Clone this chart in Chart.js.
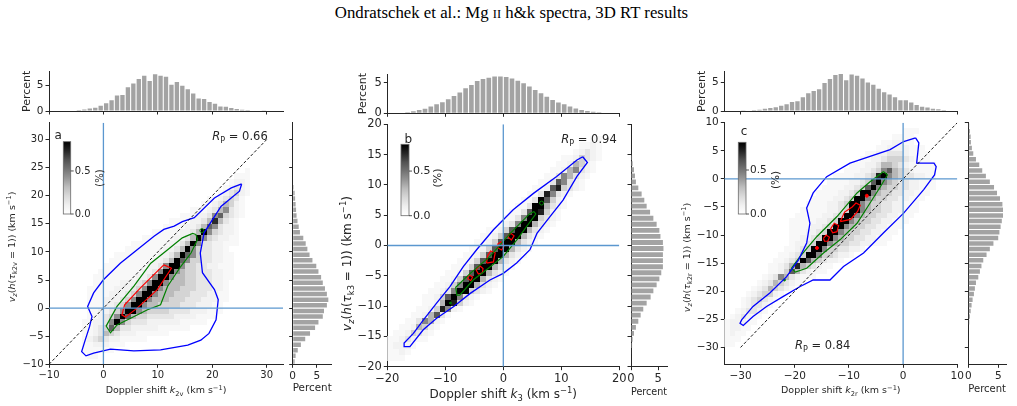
<!DOCTYPE html>
<html>
<head>
<meta charset="utf-8">
<title>Mg II h&k spectra, 3D RT results</title>
<script src="https://cdn.jsdelivr.net/npm/chart.js@4.4.1/dist/chart.umd.min.js"></script>
<style>
  html, body { margin: 0; padding: 0; background: #fff; }
  #fig { position: relative; width: 1017px; height: 406px; overflow: hidden; background: #fff; }
  #fig canvas { position: absolute; left: 0; top: 0; }
  #title { position: absolute; left: 3px; top: 3px; width: 1017px; text-align: center;
           font: 16.8px "Liberation Serif", "DejaVu Serif", serif; color: #000; }
</style>
</head>
<body>
<div id="fig">
  <div id="title">Ondratschek et al.: Mg <span style="font-size:12.5px">II</span> h&amp;k spectra, 3D RT results</div>
</div>
<script>
// ---------------------------------------------------------------- data
// 2D histograms: [y bin, first x bin, one digit per 1 km/s cell] (0 empty .. 9 darkest)
const levelPct = [0, 0.05, 0.09, 0.15, 0.23, 0.32, 0.45, 0.58, 0.72, 0.9];

const heatA = [
  [24, 26, '1'], [23, 24, '111'], [22, 23, '1221'], [21, 22, '12321'], [20, 21, '123421'],
  [19, 19, '1123431'], [18, 18, '11235421'], [17, 16, '1112356321'], [16, 14, '111223674321'],
  [15, 12, '1111223585321'], [14, 11, '11112235763221'], [13, 9, '1111122359643221'],
  [12, 7, '111111223596432211'], [11, 5, '11111112235963322111'], [10, 4, '1111111223596433221'],
  [9, 2, '1111111122359764332211'], [8, 1, '11111111223597644332211'],
  [7, 0, '111111112236996443322111'], [6, -1, '1111111122369965443332211'],
  [5, -2, '11111111223699655443332211'], [4, -2, '1111122234699655544333221'],
  [3, -3, '11111222346996555444333221'], [2, -3, '11112223469965554443332211'],
  [1, -3, '11122234699655544433322211'], [0, -3, '1112234699655444433322211'],
  [-1, -3, '1122346996544443333222111'], [-2, -3, '112346975443333322221111'],
  [-3, -4, '11223696433322222211111'], [-4, -4, '11234753322222111111'],
  [-5, -4, '1123543222111111'], [-6, -4, '123432211111'], [-7, -4, '11222111'],
  [-8, -4, '111111'], [-9, -3, '11']
];

const heatB = [
  [17, 15, '11'], [16, 13, '1121'], [15, 12, '12321'], [14, 10, '1124321'], [13, 9, '1125421'],
  [12, 8, '11256321'], [11, 7, '11365321'], [10, 6, '11376321'], [9, 5, '112784321'],
  [8, 4, '11386321'], [7, 3, '11397421'], [6, 2, '113995321'], [5, 1, '113798421'],
  [4, 0, '1136994321'], [3, -1, '1236995321'], [2, -3, '11247995321'], [1, -4, '11247995321'],
  [0, -5, '11247995321'], [-1, -6, '11247995321'], [-2, -7, '11247995321'], [-3, -8, '11247995321'],
  [-4, -9, '11247995321'], [-5, -10, '11247995321'], [-6, -11, '11247995321'],
  [-7, -12, '11246995321'], [-8, -13, '11236994321'], [-9, -14, '1124796321'],
  [-10, -14, '112598421'], [-11, -15, '11248621'], [-12, -16, '1125731'], [-13, -17, '1136521'],
  [-14, -18, '1125421'], [-15, -19, '1124321'], [-16, -20, '1123211'], [-17, -20, '12221'],
  [-18, -20, '1121'], [-19, -20, '111']
];

const heatC = [
  [8, 0, '111'], [7, -2, '1111'], [6, -4, '112211'], [5, -5, '112222111'],
  [4, -7, '112233321111'], [3, -8, '1122344432111'], [2, -10, '1112235543211111'],
  [1, -11, '11122346754321111'], [0, -13, '1111223489654332211'],
  [-1, -14, '11112234796543322111'], [-2, -15, '111122347965443322111'],
  [-3, -16, '111122349965443322111'], [-4, -17, '111122349965443322111'],
  [-5, -18, '111122349965443322111'], [-6, -19, '1111122349965443322111'],
  [-7, -20, '1111122349965443322111'], [-8, -21, '1111122349965443322111'],
  [-9, -21, '111122349965443322111'], [-10, -21, '11122349965443322111'],
  [-11, -21, '1122349965443322111'], [-12, -21, '122349965443322111'],
  [-13, -22, '112349964433221'], [-14, -23, '11234996443221'], [-15, -24, '1123497543221'],
  [-16, -25, '112358543211'], [-17, -25, '11247532111'], [-18, -26, '1236532111'],
  [-19, -27, '123543211'], [-20, -28, '12354321'], [-21, -29, '1234421'], [-22, -30, '1234321'],
  [-23, -30, '123321'], [-24, -31, '123321'], [-25, -32, '123211'], [-26, -33, '122211'],
  [-27, -33, '12211'], [-28, -33, '1211'], [-29, -33, '111'], [-30, -33, '11']
];

// marginal histograms, percent per 1 km/s bin (first bin centre given)
const topA = [0.1, 0.2, 0.3, 0.5, 0.65, 1.0, 1.5, 2.1, 3.0, 3.1, 4.6, 5.3, 6.2, 6.8, 5.8, 7.1, 6.8, 6.6,
  5.1, 5.6, 4.9, 4.2, 3.4, 2.4, 2.3, 1.75, 1.4, 0.85, 0.8, 0.6, 0.4, 0.25, 0.2, 0.1, 0.1, 0.05];
const topAFirst = -5.5;
const rightA = [0.4, 0.6, 1.05, 1.7, 2.6, 3.6, 4.65, 5.35, 6.25, 6.5, 7.1, 7.4, 7.1, 6.7, 6.25, 5.9, 5.35,
  4.9, 4.1, 3.5, 3.05, 2.7, 2.2, 1.5, 1.25, 1.0, 0.8, 0.7, 0.6, 0.5, 0.4, 0.2, 0.1];
const rightAFirst = -9.5;

const topB = [0.08, 0.16, 0.33, 0.54, 0.76, 1.09, 1.47, 1.8, 2.3, 2.83, 3.37, 4.08, 4.6, 5.27, 5.6, 5.8,
  6.0, 6.0, 5.9, 5.65, 5.3, 4.9, 4.35, 3.8, 3.26, 2.7, 2.17, 1.74, 1.47, 1.09, 0.8, 0.54, 0.38, 0.27, 0.16, 0.1];
const topBFirst = -17.5;
const rightB = [0.1, 0.2, 0.3, 0.55, 0.9, 1.34, 1.77, 2.25, 2.87, 3.6, 4.1, 4.7, 5.2, 5.55, 5.85, 5.85, 5.85,
  5.95, 5.85, 5.4, 5.2, 4.7, 4.1, 3.5, 2.87, 2.44, 1.95, 1.34, 0.9, 0.73, 0.55, 0.3, 0.2, 0.1];
const rightBFirst = -17.5;

const topC = [0.06, 0.1, 0.18, 0.24, 0.4, 0.53, 0.65, 0.9, 1.2, 1.6, 1.7, 2.4, 3.1, 3.5, 3.8, 4.9, 5.6, 6.3,
  6.5, 5.4, 6.4, 6.2, 5.7, 5.0, 4.6, 3.9, 3.3, 2.9, 2.4, 1.9, 1.9, 1.5, 1.05, 0.76, 0.6, 0.4, 0.3, 0.18, 0.1];
const topCFirst = -29.5;
const rightC = [0.17, 0.28, 0.4, 0.55, 0.72, 0.94, 1.1, 1.28, 1.67, 1.94, 2.2, 2.5, 3.05, 3.6, 4.2, 5.0, 5.2,
  5.4, 5.6, 5.8, 5.8, 5.7, 5.3, 4.8, 4.3, 3.6, 2.94, 2.33, 1.83, 1.28, 0.83, 0.6, 0.44, 0.39, 0.28, 0.15];
const rightCFirst = -25.5;

// contour lines (km/s)
const blueA = [[25.4, 22.1], [25.0, 20.8], [21.6, 18.1], [18.5, 13.4], [17.8, 9.8], [18.2, 6.3], [20.4, 3.3],
  [21.1, 1.5], [20.7, -2.1], [19.4, -4.5], [17.9, -5.7], [15.5, -6.6], [10.5, -7.45], [5.6, -7.6], [1.3, -7.3],
  [-1.8, -8.0], [-3.2, -8.5], [-4.0, -7.75], [-3.35, -5.7], [-2.55, -3.3], [-2.1, -1.5], [-2.9, 0.3],
  [-1.8, 2.7], [0.0, 5.05], [3.1, 8.0], [6.2, 10.4], [9.3, 12.8], [11.1, 14.0], [13.0, 14.6], [14.5, 15.4],
  [16.7, 16.1], [20.4, 19.6], [23.5, 21.4], [25.4, 22.1]];
const greenA = [[17.0, 13.1], [17.3, 12.2], [16.1, 9.8], [14.2, 7.4], [11.8, 3.9], [10.5, 0.6], [8.1, -0.3],
  [5.0, -1.8], [2.5, -3.0], [1.3, -4.4], [0.5, -3.2], [2.5, 0.3], [5.6, 3.9], [8.7, 8.0], [11.8, 10.4],
  [14.5, 12.5], [16.4, 13.3], [17.0, 13.1]];
const redA = [[11.1, 7.7], [12.5, 7.1], [9.9, 3.3], [6.2, 0.0], [4.05, -1.6], [3.4, -1.2], [3.9, 0.6],
  [6.8, 3.6], [11.1, 7.7]];

const blueB = [[13.7, 14.65], [14.5, 13.7], [12.7, 11.4], [10.3, 7.5], [8.05, 4.75], [5.8, 2.0], [4.6, -0.7],
  [2.3, -2.9], [0.0, -4.6], [-2.3, -5.7], [-5.7, -7.9], [-8.6, -10.1], [-11.5, -12.0], [-13.8, -13.9],
  [-16.1, -16.7], [-16.95, -16.7], [-17.1, -16.1], [-15.5, -14.5], [-13.8, -12.3], [-11.5, -9.5],
  [-9.2, -6.8], [-6.9, -3.5], [-4.6, -0.7], [-1.7, 2.6], [1.7, 5.9], [5.2, 8.6], [9.2, 11.4], [12.7, 14.1],
  [13.7, 14.65]];
const greenB = [[5.3, 5.6], [5.6, 5.2], [2.3, 0.9], [0.0, -1.8], [-2.9, -4.0], [-5.2, -5.7], [-7.5, -8.2],
  [-8.0, -8.2], [-8.2, -6.9], [-5.7, -4.6], [-2.3, -1.8], [1.2, 2.0], [4.6, 5.3], [5.3, 5.6]];
const redB = [
  [[0.7, 1.5], [1.3, 2.0], [1.85, 1.6], [1.4, 0.9], [0.7, 1.5]],
  [[-1.0, 0.2], [-0.4, 0.6], [0.1, -0.2], [-0.3, -0.75], [-0.9, -0.4], [-1.0, 0.2]],
  [[-2.9, -2.9], [-1.7, -2.7], [-1.4, -1.2], [-2.2, -0.9], [-2.7, -1.7], [-2.9, -2.9]],
  [[-4.7, -4.0], [-4.1, -3.3], [-3.5, -3.8], [-3.6, -4.5], [-4.3, -4.7], [-4.7, -4.0]],
  [[-6.2, -5.4], [-5.8, -4.9], [-5.3, -5.2], [-5.6, -5.8], [-6.2, -5.4]]
];

const blueC = [[2.3, 7.3], [2.9, 6.4], [2.5, 2.8], [5.7, 2.8], [6.1, 2.2], [5.8, 0.7], [3.8, -1.9], [0.1, -6.1],
  [-3.6, -9.6], [-7.3, -13.2], [-11.0, -15.6], [-13.5, -18.0], [-16.6, -18.0], [-19.0, -19.15],
  [-22.1, -20.9], [-25.2, -22.7], [-27.7, -24.5], [-29.5, -26.1], [-30.1, -25.7], [-29.8, -25.1],
  [-27.7, -22.7], [-24.6, -20.3], [-21.5, -17.4], [-19.3, -14.4], [-17.8, -11.4], [-17.2, -7.9],
  [-17.8, -5.2], [-16.6, -2.5], [-14.1, 0.4], [-9.8, 2.8], [-6.1, 4.0], [-2.4, 5.2], [0.1, 6.65], [2.3, 7.3]];
const greenC = [[-3.6, 1.3], [-2.9, 0.7], [-4.2, -1.4], [-6.1, -4.3], [-8.5, -7.9], [-11.6, -10.8],
  [-14.7, -13.2], [-17.8, -15.9], [-19.9, -16.6], [-20.6, -15.9], [-19.0, -13.8], [-15.9, -10.25],
  [-12.2, -6.7], [-8.5, -2.5], [-6.1, -0.5], [-3.6, 1.3]];
const redC = [
  [[-11.6, -7.6], [-10.8, -5.9], [-9.4, -5.0], [-8.7, -4.3], [-7.9, -4.7], [-8.4, -5.8], [-9.7, -7.2], [-11.6, -7.6]],
  [[-13.4, -8.9], [-12.7, -7.9], [-11.9, -8.3], [-12.2, -9.4], [-13.0, -9.6], [-13.4, -8.9]],
  [[-14.7, -10.6], [-14.2, -10.0], [-13.6, -10.4], [-13.9, -11.1], [-14.5, -11.1], [-14.7, -10.6]]
];

// tick labels
const ticksAx = [-10, 0, 10, 20, 30], ticksAy = [-10, -5, 0, 5, 10, 15, 20, 25, 30];
const ticksBx = [-20, -10, 0, 10, 20], ticksBy = [-20, -15, -10, -5, 0, 5, 10, 15, 20];
const ticksCx = [-30, -20, -10, 0, 10], ticksCy = [-30, -25, -20, -15, -10, -5, 0, 5, 10];
const pctTicks = [0, 5];
const cbTicks = [0, 0.5];

// ---------------------------------------------------------------- helpers
const W = 1017, H = 406;
const ink = '#262626';
const zeroBlue = '#5b97cf';
const barGrey = '#a3a3a3';
const fig = document.getElementById('fig');

const greyStops = [[0, 255], [0.125, 240], [0.25, 217], [0.375, 189], [0.5, 150], [0.625, 115], [0.75, 82], [0.875, 37], [1, 0]];
function grey(t) {
  t = Math.max(0, Math.min(1, t));
  for (let i = 1; i < greyStops.length; i++) {
    const [t0, c0] = greyStops[i - 1], [t1, c1] = greyStops[i];
    if (t <= t1) {
      const c = Math.round(c0 + (c1 - c0) * (t - t0) / (t1 - t0));
      return `rgb(${c},${c},${c})`;
    }
  }
  return 'rgb(0,0,0)';
}

const fmt = v => (v < 0 ? '\u2212' + Math.abs(v) : String(v));

function rich(ctx, parts, x, y, size, align, rot) {
  const fontOf = st => (st.includes('i') ? 'italic ' : '') + (/[bp]/.test(st) ? size * 0.7 : size) + 'px "DejaVu Sans"';
  ctx.save();
  ctx.translate(x, y);
  ctx.rotate(rot || 0);
  ctx.textAlign = 'left';
  ctx.textBaseline = 'alphabetic';
  ctx.fillStyle = ink;
  let w = 0;
  parts.forEach(([t, st]) => { ctx.font = fontOf(st); w += ctx.measureText(t).width; });
  let cx = align === 'center' ? -w / 2 : align === 'right' ? -w : 0;
  const base = size * 0.36;
  parts.forEach(([t, st]) => {
    ctx.font = fontOf(st);
    const dy = st.includes('b') ? size * 0.24 : st.includes('p') ? -size * 0.4 : 0;
    ctx.fillText(t, cx, base + dy);
    cx += ctx.measureText(t).width;
  });
  ctx.restore();
}

function pad(area, yw, xh) {
  const [L, R, T, B] = area;
  return { left: L - yw, right: W - R, top: T, bottom: H - B - xh };
}

function axis(pos, range, ticks, labels, fs, size, title, tfs) {
  const vertical = pos === 'left';
  return {
    type: 'linear', position: pos, min: range[0], max: range[1], offset: false,
    afterBuildTicks: s => { s.ticks = ticks.map(v => ({ value: v })); },
    afterFit: s => { if (vertical) s.width = size; else s.height = size; },
    ticks: { display: labels, autoSkip: false, maxRotation: 0, padding: 2, color: ink,
             font: { size: fs }, callback: v => fmt(v) },
    grid: { display: true, offset: false, drawOnChartArea: false, drawTicks: true, tickLength: 3.5, color: ink, lineWidth: 1 },
    border: { display: true, color: ink, width: 1 },
    title: title ? { display: true, text: title, padding: 0, color: ink, font: { size: tfs } } : { display: false }
  };
}

function make(cfg) {
  const cv = document.createElement('canvas');
  cv.width = W; cv.height = H;
  cv.style.width = W + 'px'; cv.style.height = H + 'px';
  fig.appendChild(cv);
  cfg.options = Object.assign({
    responsive: false, animation: false, devicePixelRatio: 1, events: [],
    plugins: { legend: { display: false }, tooltip: { enabled: false } }
  }, cfg.options);
  return new Chart(cv, cfg);
}

const pts = arr => arr.map(([x, y]) => ({ x, y }));
const seg = (arr, col, w, dash) => ({
  data: pts(arr), showLine: true, pointRadius: 0, borderColor: col, borderWidth: w,
  borderDash: dash || [], fill: false, tension: 0
});
const dot = ([x, y], col, r, filled) => ({
  data: [{ x, y }], showLine: false, pointRadius: r, pointBorderColor: col, pointBorderWidth: 1,
  pointBackgroundColor: filled ? col : 'rgba(0,0,0,0)'
});

function drawHeat(chart, rows, vmax) {
  const { ctx, chartArea: a } = chart;
  const sx = chart.scales.x, sy = chart.scales.y;
  ctx.save();
  ctx.beginPath();
  ctx.rect(a.left, a.top, a.right - a.left, a.bottom - a.top);
  ctx.clip();
  rows.forEach(([yb, x0, cells]) => {
    const top = Math.round(sy.getPixelForValue(yb + 1)), bot = Math.round(sy.getPixelForValue(yb));
    for (let i = 0; i < cells.length; i++) {
      const lv = +cells[i];
      if (!lv) continue;
      const l = Math.round(sx.getPixelForValue(x0 + i)), r = Math.round(sx.getPixelForValue(x0 + i + 1));
      ctx.fillStyle = grey(levelPct[lv] / vmax);
      ctx.fillRect(l, top, r - l, bot - top);
    }
  });
  ctx.restore();
}

function drawColorbar(ctx, a, p) {
  const [dx, dy, w, h] = p.cb;
  const x = a.left + dx, y = a.top + dy;
  const g = ctx.createLinearGradient(0, y + h, 0, y);
  greyStops.forEach(([t, c]) => g.addColorStop(t, `rgb(${c},${c},${c})`));
  ctx.save();
  ctx.fillStyle = g;
  ctx.fillRect(x, y, w, h);
  ctx.strokeStyle = '#6a6a6a';
  ctx.lineWidth = 0.8;
  ctx.strokeRect(x, y, w, h);
  ctx.strokeStyle = ink;
  ctx.fillStyle = ink;
  ctx.font = p.cbFs + 'px "DejaVu Sans"';
  ctx.textAlign = 'left';
  ctx.textBaseline = 'middle';
  cbTicks.forEach(v => {
    const ty = y + h - v / p.vmax * h;
    ctx.beginPath(); ctx.moveTo(x + w, ty); ctx.lineTo(x + w + 3, ty); ctx.stroke();
    ctx.fillText(v.toFixed(1), x + w + 4, ty);
  });
  ctx.translate(a.left + p.pct[0], a.top + p.pct[1]);
  ctx.rotate(-Math.PI / 2);
  ctx.textAlign = 'center';
  ctx.fillText('(%)', 0, 0);
  ctx.restore();
}

function decor(p) {
  return {
    id: 'decor' + p.letter,
    beforeDatasetsDraw(chart) { drawHeat(chart, p.heat, p.vmax); },
    afterDraw(chart) {
      const ctx = chart.ctx, a = chart.chartArea;
      drawColorbar(ctx, a, p);
      ctx.save();
      ctx.fillStyle = ink;
      ctx.font = p.letterFs + 'px "DejaVu Sans"';
      ctx.textAlign = 'center';
      ctx.textBaseline = 'middle';
      ctx.fillText(p.letter, a.left + p.letterPos[0], a.top + p.letterPos[1]);
      ctx.restore();
      const rp = [['R', 'i'], ['P', 'b'], [' = ' + p.rp, '']];
      if (p.rpAt === 'topright') rich(ctx, rp, a.right + p.rpPos[0], a.top + p.rpPos[1], 11.5, 'right');
      else rich(ctx, rp, a.left + p.rpPos[0], a.bottom + p.rpPos[1], 11.5, 'left');
      const xt = [['Doppler shift ', ''], ['k', 'i'], [p.sub, 'b'], [' (km s', ''], ['\u22121', 'p'], [')', '']];
      rich(ctx, xt, (a.left + a.right) / 2, a.bottom + p.xTitleOff, p.titleFs, 'center');
      const yt = [['v', 'i'], ['z', 'ib'], ['(', ''], ['h', 'i'], ['(', ''], ['\u03c4', 'i'], ['k' + p.sub, 'b'],
        [' = 1)) (km s', ''], ['\u22121', 'p'], [')', '']];
      rich(ctx, yt, a.left - p.yTitleOff, (a.top + a.bottom) / 2 + p.yTitleDy, p.titleFs, 'center', -Math.PI / 2);
    }
  };
}

function mainChart(p) {
  const ds = [
    seg([[0, p.y[0]], [0, p.y[1]]], zeroBlue, 1.3),
    seg([[p.x[0], 0], [p.x[1], 0]], zeroBlue, 1.3)
  ];
  if (p.diag) ds.push(seg(p.diag, '#000', 0.9, [3, 2]));
  ds.push(seg(p.blue, '#0000ff', 1.3));
  ds.push(seg(p.green, '#008000', 1.2));
  p.red.forEach(r => ds.push(seg(r, '#ff0000', 1.2)));
  p.dots.forEach(d => ds.push(dot(d[0], d[1], d[2], d[3])));
  return make({
    type: 'scatter',
    data: { datasets: ds },
    options: {
      layout: { padding: pad(p.area, 45, 33) },
      scales: {
        x: axis('bottom', p.x, p.xt, true, p.fs, 33),
        y: axis('left', p.y, p.yt, true, p.fs, 45)
      }
    },
    plugins: [decor(p)]
  });
}

function topHist(p) {
  const data = p.top.map((v, i) => ({ x: p.topFirst + i, y: v }));
  return make({
    type: 'bar',
    data: { datasets: [{ data, backgroundColor: barGrey, borderWidth: 0, barPercentage: 0.8, categoryPercentage: 1 }] },
    options: {
      layout: { padding: pad(p.topArea, p.topYW, 5) },
      scales: {
        x: axis('bottom', p.x, p.xt, false, p.fs, 5),
        y: axis('left', [0, p.topMax], pctTicks, true, p.hfs, p.topYW, 'Percent', 11)
      }
    }
  });
}

function rightHist(p) {
  const data = p.right.map((v, i) => ({ x: v, y: p.rightFirst + i }));
  return make({
    type: 'bar',
    data: { datasets: [{ data, backgroundColor: barGrey, borderWidth: 0, barPercentage: 0.8, categoryPercentage: 1 }] },
    options: {
      indexAxis: 'y',
      layout: { padding: pad(p.rightArea, 5, p.rightXH) },
      scales: {
        x: axis('bottom', [0, p.rightMax], pctTicks, true, p.hfs, p.rightXH, 'Percent', 11),
        y: axis('left', p.y, p.yt, false, p.fs, 5)
      }
    }
  });
}

// ---------------------------------------------------------------- panels
const panels = [
  {
    letter: 'a', sub: '2v', rp: '0.66', heat: heatA, vmax: 0.84,
    area: [49, 283, 122.7, 364.3], x: [-10, 33], y: [-10, 33], xt: ticksAx, yt: ticksAy,
    fs: 10, hfs: 10.5, titleFs: 9.5, xTitleOff: 25.7, yTitleOff: 37.3, yTitleDy: 3.5,
    cb: [14.3, 19, 7.4, 72.3], cbFs: 10, pct: [51, 55.3], letterPos: [9.3, 13.3], letterFs: 12,
    rpAt: 'topright', rpPos: [-15.3, 13.3],
    diag: [[-10, -10], [30, 30]], blue: blueA, green: greenA, red: [redA],
    dots: [[[18.1, 13.8], '#008000', 2, false]],
    top: topA, topFirst: topAFirst, topArea: [49, 283, 71.7, 111], topMax: 7.6, topYW: 28.3,
    right: rightA, rightFirst: rightAFirst, rightArea: [292.7, 331.7, 122.7, 364.3], rightMax: 8.1, rightXH: 30.6
  },
  {
    letter: 'b', sub: '3', rp: '0.94', heat: heatB, vmax: 0.8,
    area: [387.3, 619.3, 124.3, 366.7], x: [-20, 20], y: [-20, 20], xt: ticksBx, yt: ticksBy,
    fs: 11.5, hfs: 11.5, titleFs: 12, xTitleOff: 26.6, yTitleOff: 40.6, yTitleDy: 18,
    cb: [13.7, 20, 8, 71.4], cbFs: 11, pct: [50.7, 53.7], letterPos: [21, 15.7], letterFs: 12,
    rpAt: 'topright', rpPos: [-2.6, 15],
    diag: null, blue: blueB, green: greenB, red: redB,
    dots: [[[6.6, 7.0], '#008000', 2, false], [[-9.1, -9.5], '#008000', 1, true]],
    top: topB, topFirst: topBFirst, topArea: [387.3, 619.3, 74, 113.3], topMax: 6.4, topYW: 30.6,
    right: rightB, rightFirst: rightBFirst, rightArea: [631, 667, 124.3, 366.7], rightMax: 6.6, rightXH: 31.6
  },
  {
    letter: 'c', sub: '2r', rp: '0.84', heat: heatC, vmax: 0.815,
    area: [724.3, 957.3, 122.7, 364.3], x: [-33, 10], y: [-33, 10], xt: ticksCx, yt: ticksCy,
    fs: 10.5, hfs: 10.5, titleFs: 9.5, xTitleOff: 25.7, yTitleOff: 37.6, yTitleDy: 14,
    cb: [14, 19.6, 7.7, 71.7], cbFs: 10.5, pct: [52.4, 57.3], letterPos: [19.7, 9], letterFs: 12,
    rpAt: 'bottomleft', rpPos: [70.7, -19.3],
    diag: [[-30, -30], [10, 10]], blue: blueC, green: greenC, red: redC,
    dots: [[[-21.9, -18.0], '#008000', 1, true], [[-6.7, -3.0], '#ff0000', 1.5, true], [[-15.9, -12.3], '#ff0000', 1.5, true]],
    top: topC, topFirst: topCFirst, topArea: [724.3, 957.3, 71.7, 111], topMax: 6.9, topYW: 28.6,
    right: rightC, rightFirst: rightCFirst, rightArea: [968.3, 1006, 122.7, 364.3], rightMax: 6.3, rightXH: 31.6
  }
];

Chart.defaults.font.family = '"DejaVu Sans", sans-serif';
Chart.defaults.color = ink;

panels.forEach(p => {
  mainChart(p);
  topHist(p);
  rightHist(p);
});
</script>
</body>
</html>
